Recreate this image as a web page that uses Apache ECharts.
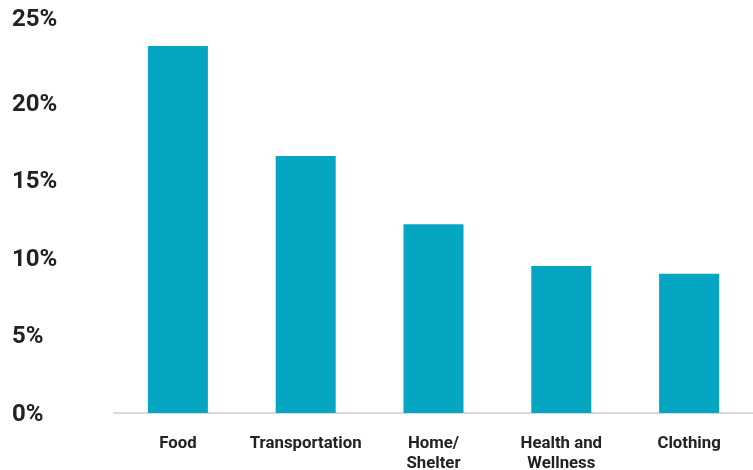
<!DOCTYPE html>
<html>
<head>
<meta charset="utf-8">
<script src="https://cdn.jsdelivr.net/npm/echarts@6/dist/echarts.min.js"></script>
<style>html,body{margin:0;padding:0;background:#fff}#c{width:753px;height:470px}</style>
</head>
<body>
<div id="c"></div>
<script>
const categories = ['Food', 'Transportation', 'Home/\nShelter', 'Health and\nWellness', 'Clothing'];
const values = [23.7, 16.6, 12.2, 9.5, 9.0];
const yTicks = [0, 5, 10, 15, 20, 25];

const chart = echarts.init(document.getElementById('c'));
chart.setOption({
  animation: false,
  grid: { left: 114, right: 0, top: 26, bottom: 57, outerBoundsMode: 'none', containLabel: false },
  xAxis: {
    type: 'category',
    data: categories,
    axisLine: { lineStyle: { color: '#d9d9d9', width: 2 } },
    axisTick: { show: false },
    axisLabel: {
      margin: 21,
      color: '#222',
      fontFamily: 'Roboto',
      fontWeight: 'bold',
      fontSize: 16.8,
      lineHeight: 20,
      interval: 0
    }
  },
  yAxis: {
    type: 'value',
    min: yTicks[0],
    max: yTicks[yTicks.length - 1],
    interval: 5,
    splitLine: { show: false },
    axisLine: { show: false },
    axisTick: { show: false },
    axisLabel: {
      align: 'left',
      margin: 102,
      color: '#222',
      fontFamily: 'Roboto',
      fontWeight: 'bold',
      fontSize: 24,
      padding: [3, 0, 0, 0],
      formatter: v => v === 25 ? '{top|' + v + '%}' : v + '%',
      rich: { top: { fontFamily: 'Roboto', fontWeight: 'bold', fontSize: 24, color: '#222', padding: [0, 0, 16, 0] } }
    }
  },
  series: [{
    type: 'bar',
    data: values,
    barWidth: 60,
    itemStyle: { color: '#04a6c1' }
  }]
});
</script>
</body>
</html>
